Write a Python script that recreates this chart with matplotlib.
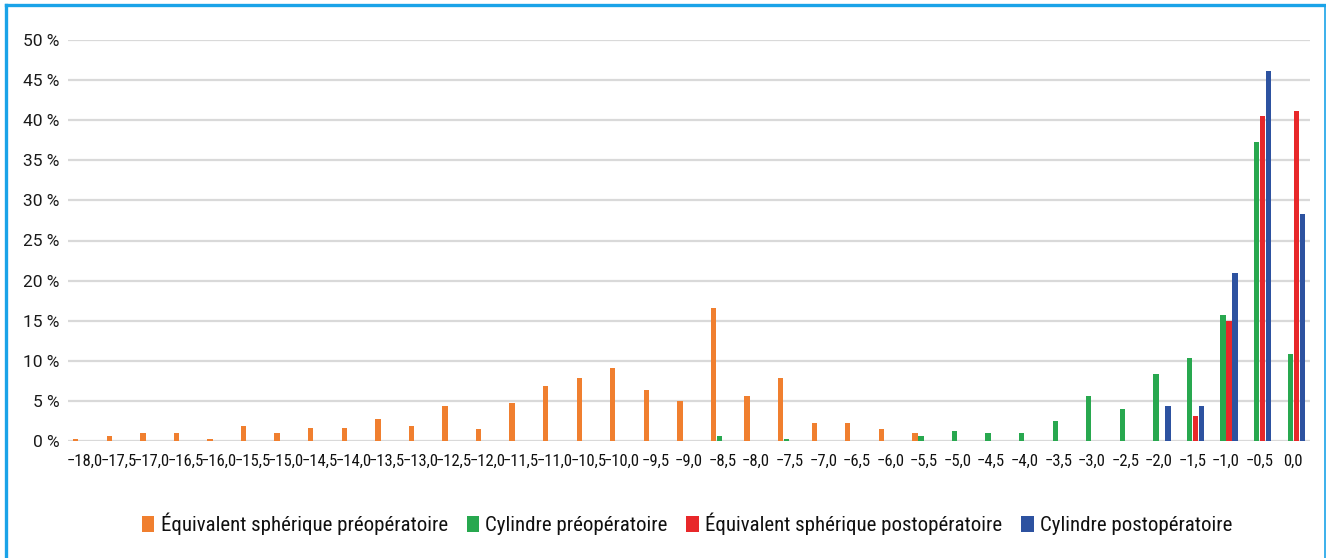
import matplotlib
matplotlib.use("Agg")
import matplotlib.pyplot as plt
from matplotlib import font_manager
from matplotlib.lines import Line2D
from matplotlib.patches import Patch
import numpy as np

categories = ["−18,0", "−17,5", "−17,0", "−16,5", "−16,0", "−15,5", "−15,0", "−14,5",
              "−14,0", "−13,5", "−13,0", "−12,5", "−12,0", "−11,5", "−11,0", "−10,5",
              "−10,0", "−9,5", "−9,0", "−8,5", "−8,0", "−7,5", "−7,0", "−6,5",
              "−6,0", "−5,5", "−5,0", "−4,5", "−4,0", "−3,5", "−3,0", "−2,5",
              "−2,0", "−1,5", "−1,0", "−0,5", "0,0"]

es_pre = [0.3, 0.6, 1.0, 1.0, 0.3, 1.9, 1.0, 1.6, 1.6, 2.8, 1.9, 4.4, 1.5, 4.7, 6.9, 7.8,
          9.1, 6.3, 5.0, 16.6, 5.6, 7.8, 2.2, 2.2, 1.5, 1.0, 0, 0, 0, 0, 0, 0,
          0, 0, 0, 0, 0]
cyl_pre = [0, 0, 0, 0, 0, 0, 0, 0, 0, 0, 0, 0, 0, 0, 0, 0,
           0, 0, 0, 0.6, 0, 0.3, 0, 0, 0, 0.6, 1.25, 1.0, 1.0, 2.5, 5.6, 4.0,
           8.4, 10.3, 15.7, 37.3, 10.9]
es_post = [0] * 33 + [3.1, 15.0, 40.5, 41.1]
cyl_post = [0] * 32 + [4.4, 4.4, 21.0, 46.1, 28.3]

series_names = ["Équivalent sphérique préopératoire", "Cylindre préopératoire",
                "Équivalent sphérique postopératoire", "Cylindre postopératoire"]
colors = ["#f07f2f", "#28a84f", "#e8282a", "#2d52a0"]
yticks = [0, 5, 10, 15, 20, 25, 30, 35, 40, 45, 50]

available = {f.name for f in font_manager.fontManager.ttflist}
narrow = None
for cand in ["Liberation Sans Narrow", "Roboto Condensed", "Noto Sans Condensed",
             "Open Sans Condensed", "DejaVu Sans Condensed"]:
    if cand in available:
        narrow = cand
        break
if narrow is None:
    narrow = "Roboto"
main_font = "Roboto" if "Roboto" in available else "DejaVu Sans"

W, H = 1326, 558
fig = plt.figure(figsize=(W / 100, H / 100), dpi=100)
ax = fig.add_axes([68 / W, 1 - 441 / H, (1310 - 68) / W, (441 - 40) / H])

x = np.arange(len(categories))
step = 0.18
bw = 0.16
all_series = [es_pre, cyl_pre, es_post, cyl_post]
for k, (vals, c, name) in enumerate(zip(all_series, colors, series_names)):
    ax.bar(x + (k - 1.5) * step, vals, width=bw, color=c, label=name,
           edgecolor="none", zorder=3)

ax.set_xlim(-0.5, len(categories) - 0.5)
ax.set_ylim(0, 50)
ax.set_yticks(yticks)
ax.set_yticklabels([f"{v} %" for v in yticks], fontsize=12.5, family=main_font, color="#1a1a1a")
ax.set_xticks(x)
ax.set_xticklabels(categories, fontsize=12, family=narrow, color="#111111")
ax.tick_params(axis="both", length=0)
ax.tick_params(axis="y", pad=6)
ax.tick_params(axis="x", pad=9)
ax.grid(axis="y", color="#d9d9d9", linewidth=1.6, zorder=0)
for s in ax.spines.values():
    s.set_visible(False)

handles = [Patch(facecolor=c, edgecolor="none") for c in colors]
fig.legend(handles, series_names, loc="center", bbox_to_anchor=(687 / W, 1 - 524 / H),
           ncol=4, frameon=False, prop={"family": narrow, "size": 15},
           handlelength=0.6, handleheight=0.75, handletextpad=0.3, columnspacing=0.9,
           labelcolor="#111111")

border = "#1aa3e8"
fig.add_artist(Line2D([5.5 / W, 5.5 / W], [0, 1 - 5 / H], color=border, lw=2.4,
                      transform=fig.transFigure))
fig.add_artist(Line2D([5.5 / W, 1324.5 / W], [1 - 5 / H, 1 - 5 / H], color=border, lw=2.4,
                      transform=fig.transFigure))
fig.add_artist(Line2D([1324.5 / W, 1324.5 / W], [0, 1 - 5 / H], color=border, lw=1.2,
                      transform=fig.transFigure))

fig.savefig("out.png", dpi=100)
